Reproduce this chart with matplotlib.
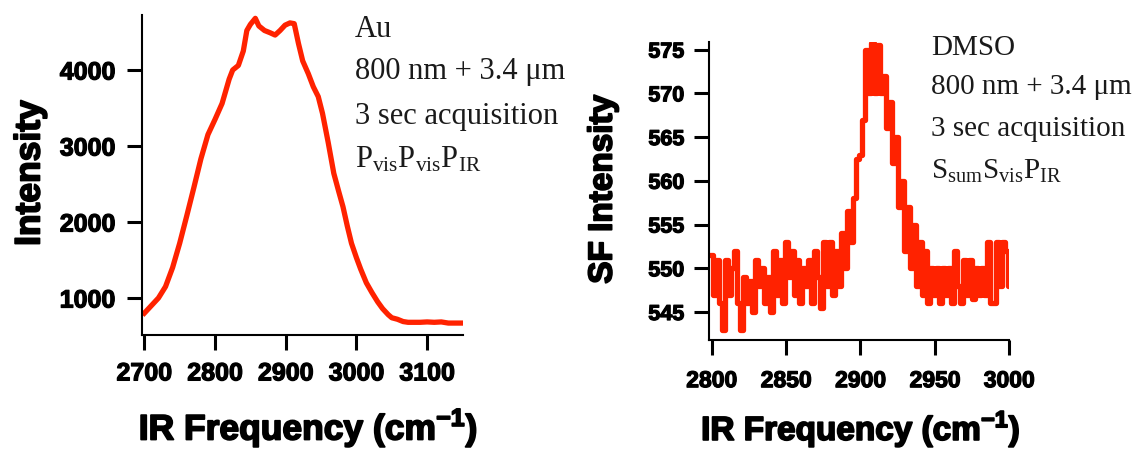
import numpy as np
import matplotlib
matplotlib.use('Agg')
import matplotlib.pyplot as plt
import matplotlib.patheffects as pe

# 字体设置：坐标轴用无衬线粗体，注释用衬线体
plt.rcParams['font.family'] = ['Liberation Sans', 'DejaVu Sans']
plt.rcParams['mathtext.fontset'] = 'custom'
plt.rcParams['mathtext.rm'] = 'Liberation Serif'
plt.rcParams['mathtext.bf'] = 'Liberation Sans:bold'

RED = '#ff2200'

# Au 样品 SFG 光谱
au_freq = [2700, 2710, 2720, 2730, 2740, 2750, 2760, 2770, 2780, 2790,
           2800, 2810, 2820, 2825, 2833, 2840, 2845, 2850, 2857, 2862,
           2870, 2878, 2885, 2892, 2899, 2906, 2912, 2918, 2924, 2932,
           2939, 2946, 2952, 2960, 2968, 2975, 2981, 2987, 2993, 3000,
           3006, 3014, 3022, 3030, 3037, 3045, 3050, 3058, 3066, 3073,
           3090, 3100, 3110, 3120, 3130, 3140, 3150]
au_int = [800, 900, 1000, 1150, 1400, 1720, 2080, 2450, 2830, 3150,
          3350, 3560, 3880, 4000, 4060, 4250, 4520, 4600, 4680, 4580,
          4520, 4490, 4460, 4520, 4590, 4620, 4610, 4350, 4120, 3950,
          3780, 3650, 3430, 3050, 2640, 2400, 2200, 1950, 1720, 1530,
          1380, 1200, 1070, 950, 860, 780, 740, 720, 690, 680,
          680, 685, 680, 685, 670, 670, 670]

# DMSO 样品 SFG 光谱
dmso_freq = [2800, 2802, 2804, 2806, 2808, 2810, 2812, 2814, 2816, 2818,
             2820, 2822, 2824, 2826, 2828, 2830, 2832, 2834, 2836, 2838,
             2840, 2842, 2844, 2846, 2848, 2850, 2852, 2854, 2856, 2858,
             2860, 2862, 2864, 2866, 2868, 2870, 2872, 2874, 2876, 2878,
             2880, 2882, 2884, 2886, 2888, 2890, 2892, 2894, 2896, 2898,
             2900, 2902, 2904, 2906, 2908, 2910, 2912, 2914, 2916, 2918,
             2920, 2922, 2924, 2926, 2928, 2930, 2932, 2934, 2936, 2938,
             2940, 2942, 2944, 2946, 2948, 2950, 2952, 2954, 2956, 2958,
             2960, 2962, 2964, 2966, 2968, 2970, 2972, 2974, 2976, 2978,
             2980, 2982, 2984, 2986, 2988, 2990, 2992, 2994, 2996, 2998,
             3000]
dmso_int = [551.5, 547, 551, 546, 543, 551, 547, 550, 552, 546,
            543, 549, 546, 548.5, 545, 551, 548, 550, 546, 549,
            545, 552, 547, 551, 546, 553, 549, 552, 547, 551,
            546, 550, 548, 551, 546, 552, 549, 545.5, 553, 548,
            553, 547, 552, 548, 554, 550, 556.5, 553, 558, 562.5,
            563, 567, 575, 570, 575.8, 570, 575.5, 570, 572, 566,
            569, 562, 565, 557, 560, 552, 557, 550, 555, 548,
            553, 547, 552, 546, 550, 547, 550, 546, 550, 547,
            550, 546, 552, 548, 546, 551, 547, 551, 546.5, 550,
            547, 550, 547, 553, 546, 546, 553, 548, 553, 552,
            548]

au_xticks = [2700, 2800, 2900, 3000, 3100]
au_yticks = [1000, 2000, 3000, 4000]
dmso_xticks = [2800, 2850, 2900, 2950, 3000]
dmso_yticks = [545, 550, 555, 560, 565, 570, 575]

au_notes = ['Au', '800 nm + 3.4 \u03bcm', '3 sec acquisition',
            r'$\mathrm{P_{vis}P_{vis}P_{IR}}$']
dmso_notes = ['DMSO', '800 nm + 3.4 \u03bcm', '3 sec acquisition',
              r'$\mathrm{S_{sum}S_{vis}P_{IR}}$']

W, H = 1136, 449
fig = plt.figure(figsize=(W / 100, H / 100), dpi=100)

# 加粗描边，让字更“黑”
thick_small = [pe.withStroke(linewidth=0.9, foreground='black')]
thick_big = [pe.withStroke(linewidth=1.3, foreground='black')]


def px_axes(x0, y0, x1, y1):
    # 像素坐标(左上为原点) -> 画布比例
    return fig.add_axes([x0 / W, 1 - y1 / H, (x1 - x0) / W, (y1 - y0) / H])


def style(ax, xt, yt, xsize, ysize, xpad, ypad):
    for s in ['top', 'right']:
        ax.spines[s].set_visible(False)
    for s in ['left', 'bottom']:
        ax.spines[s].set_linewidth(1.5)
    ax.set_xticks(xt, [str(t) for t in xt], fontsize=xsize,
                  fontweight='bold', path_effects=thick_small)
    ax.set_yticks(yt, [str(t) for t in yt], fontsize=ysize,
                  fontweight='bold', path_effects=thick_small)
    ax.tick_params(direction='out', length=11, width=2.2)
    ax.tick_params(axis='x', pad=xpad)
    ax.tick_params(axis='y', pad=ypad)


def labels(ax, ytext, size, ylab_xy, xlab_xy):
    ax.set_ylabel(ytext, fontsize=size, fontweight='bold', va='center',
                  path_effects=thick_big)
    ax.yaxis.set_label_coords(*ylab_xy)
    ax.set_xlabel(r'IR Frequency (cm$^{\mathbf{-1}}$)', fontsize=size,
                  fontweight='bold', va='center', path_effects=thick_big)
    ax.xaxis.set_label_coords(*xlab_xy)


# 左图
ax1 = px_axes(141.7, 15, 462.7, 335)
ax1.plot(au_freq, au_int, color=RED, lw=3.8, solid_joinstyle='round')
ax1.set_xlim(2696.3, 3150.3)
ax1.set_ylim(513, 4724)
style(ax1, au_xticks, au_yticks, 18, 18, 8, 8)
labels(ax1, 'Intensity', 25.5, (-0.348, 0.506), (0.518, -0.29))

# 右图：阶梯线
ax2 = px_axes(709.3, 41.7, 1009.3, 340)
ax2.plot(dmso_freq, dmso_int, color=RED, lw=3.8, drawstyle='steps-mid')
ax2.set_xlim(2798.4, 3000)
ax2.set_ylim(541.8, 575.9)
style(ax2, dmso_xticks, dmso_yticks, 16.5, 15.5, 10, 7)
labels(ax2, 'SF Intensity', 24, (-0.354, 0.506), (0.505, -0.298))

# 实验条件注释
for txt, yb in zip(au_notes, [37, 79, 124, 168]):
    fig.text(355 / W, 1 - yb / H, txt, fontsize=22, va='baseline',
             family='Liberation Serif', color='#1a1a1a')
for txt, yb in zip(dmso_notes, [55, 94, 136, 179]):
    fig.text(931 / W, 1 - yb / H, txt, fontsize=21, va='baseline',
             family='Liberation Serif', color='#1a1a1a')

fig.savefig('out.png', dpi=100)
